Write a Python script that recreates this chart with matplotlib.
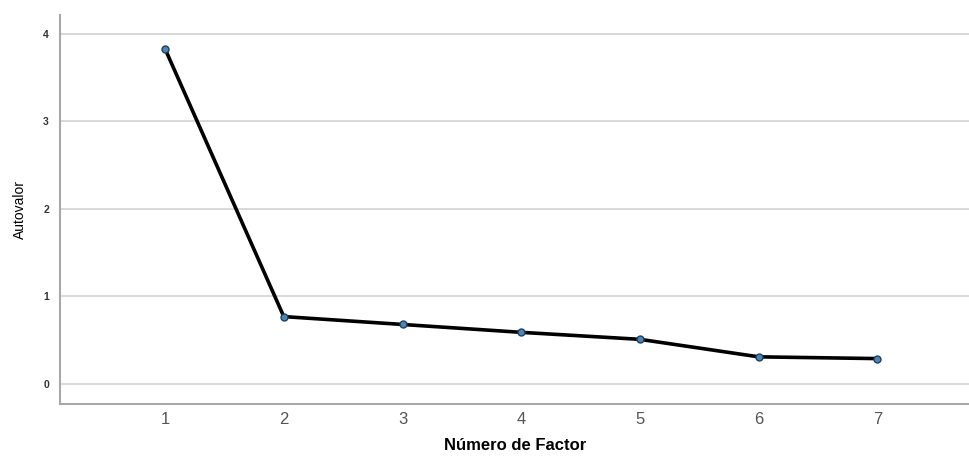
import matplotlib.pyplot as plt

plt.rcParams['font.family'] = ['Liberation Sans', 'DejaVu Sans']

# data
factores = [1, 2, 3, 4, 5, 6, 7]
autovalores = [3.83, 0.77, 0.68, 0.59, 0.51, 0.31, 0.29]
y_ticks = [0, 1, 2, 3, 4]

fig = plt.figure(figsize=(9.7, 4.58), dpi=100)
ax = fig.add_axes([60 / 970, 1 - 404 / 458, 910 / 970, 389 / 458])

# horizontal grid
for t in y_ticks:
    ax.axhline(t, color='#d6d6d6', linewidth=1.3, zorder=0)

ax.plot(factores, autovalores, color='black', linewidth=2.6, zorder=2,
        marker='o', markersize=5, markerfacecolor='#4d86b5',
        markeredgecolor='#1f3f5f', markeredgewidth=1.0)

ax.set_xlim(0.115, 7.78)
ax.set_ylim(-0.229, 4.217)
ax.set_xticks(factores)
ax.set_yticks(y_ticks)
ax.tick_params(axis='x', length=0, pad=6, labelsize=12, labelcolor='#555555')
ax.tick_params(axis='y', length=0, pad=8, labelsize=7.5, labelcolor='#333333')
for lab in ax.get_yticklabels():
    lab.set_fontweight('bold')

for side in ['top', 'right']:
    ax.spines[side].set_visible(False)
for side in ['left', 'bottom']:
    ax.spines[side].set_color('#a8a8a8')
    ax.spines[side].set_linewidth(1.5)

ax.set_xlabel('Número de Factor', fontsize=12, fontweight='bold', labelpad=8)
ax.set_ylabel('Autovalor', fontsize=10, labelpad=12)

fig.savefig('out.png', dpi=100)
